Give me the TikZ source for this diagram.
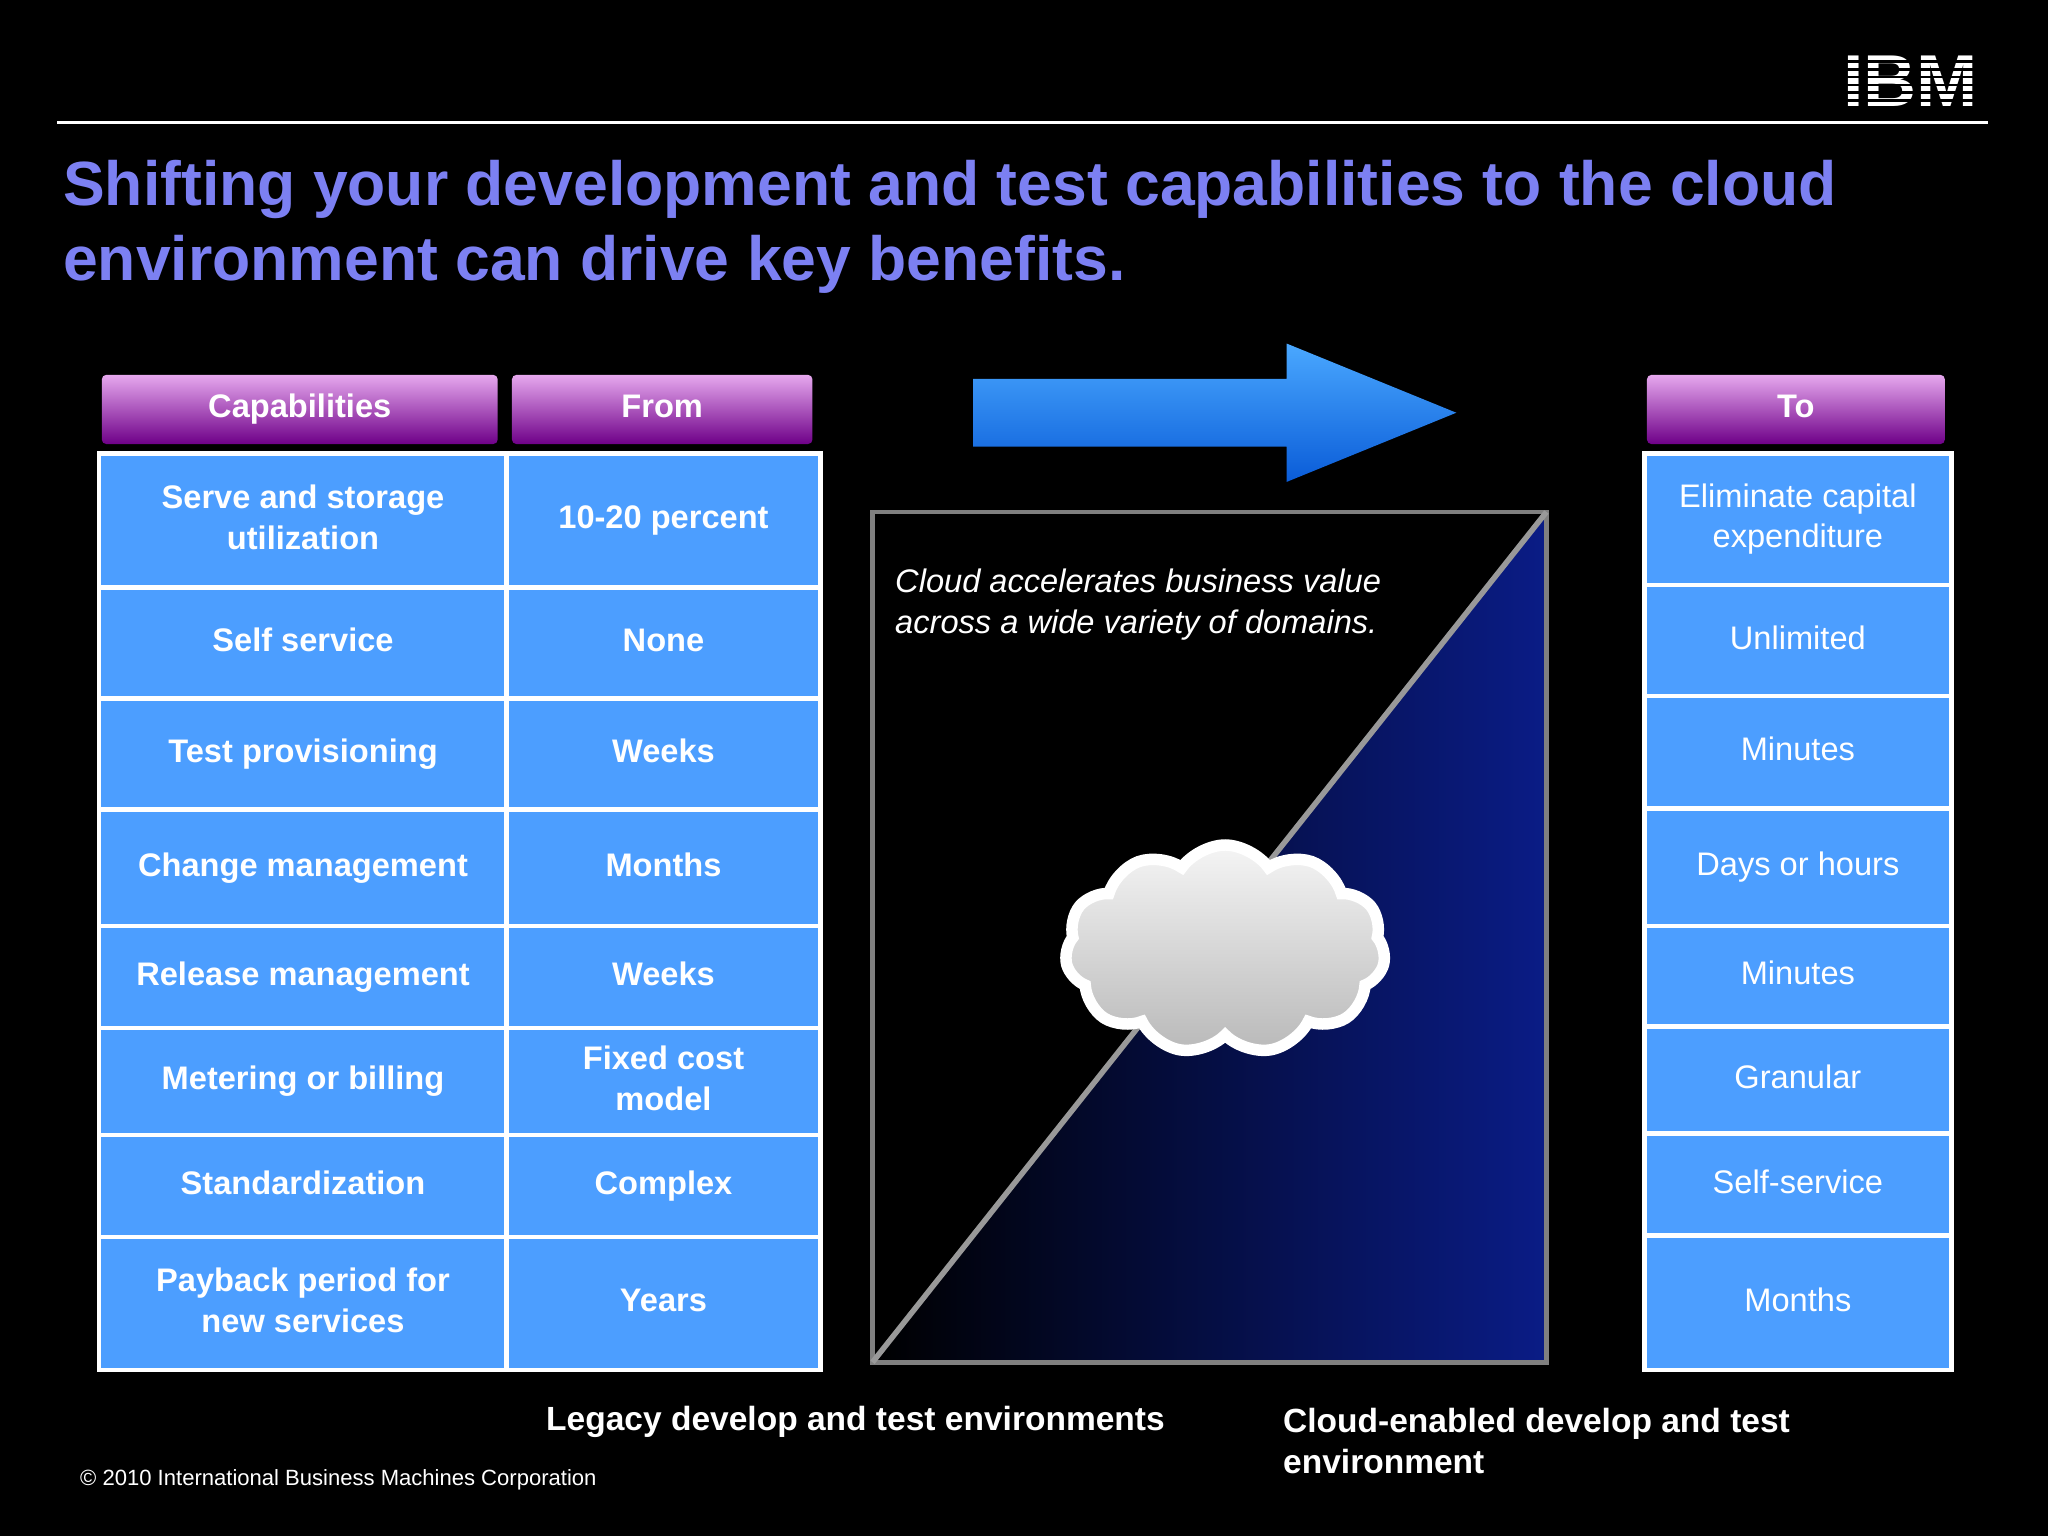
\documentclass[tikz,border=0pt]{standalone}
\usepackage{fontspec}
\setmainfont{Liberation Sans}
\usetikzlibrary{shapes.symbols,shapes.arrows}
\definecolor{titleblue}{HTML}{7C80F2}
\definecolor{cellblue}{HTML}{4C9EFF}
\definecolor{HTML2}{HTML}{E6A8EE}
\definecolor{HTML3}{HTML}{6E0088}
\definecolor{HTML4}{HTML}{4AA8FF}
\definecolor{HTML5}{HTML}{0A5CD8}
\definecolor{HTML6}{HTML}{0A1C86}
\newcommand{\cs}{\vphantom{Ag}}
\tikzset{
 cell/.style={draw=white,line width=1pt,fill=cellblue,text=white,align=center,font=\fontsize{7.1pt}{8.8pt}\selectfont},
 lcell/.style={cell,font=\fontsize{7.1pt}{8.8pt}\selectfont\bfseries},
 head/.style={top color=HTML2,bottom color=HTML3,text=white,font=\fontsize{7.1pt}{8.8pt}\selectfont\bfseries,rounded corners=1pt},
}
\begin{document}
\begin{tikzpicture}[x=0.01cm,y=-0.01cm]
\fill[black] (0,0) rectangle (1568,1176);
\useasboundingbox (0,0) rectangle (1568,1176);
\draw[white,line width=0.6pt] (44,94) -- (1522,94);
\node[text=white,font=\fontsize{16pt}{16pt}\selectfont\bfseries] (ibm) at (1463,62) {IBM};
\foreach \yy in {46,52,58,64,70,76} \fill[black] (1400,\yy) rectangle (1530,\yy+2);
\node[anchor=north west,text=titleblue,align=left,font=\fontsize{13.6pt}{16.4pt}\selectfont\bfseries] (title) at (36,110)
 {Shifting your development and test capabilities to the cloud\\environment can drive key benefits.};
\node[head,minimum width=3.03cm,minimum height=0.53cm] (h1) at (229.5,313.5) {\cs Capabilities};
\node[head,minimum width=2.30cm,minimum height=0.53cm] (h2) at (507,313.5) {\cs From};
\node[head,minimum width=2.28cm,minimum height=0.53cm] (h3) at (1375,313.5) {\cs To};
\def\lrows{347/450/{Serve and storage\\utilization}/{10-20 percent},450/535/{Self service}/{None},535/620/{Test provisioning}/{Weeks},620/709/{Change management}/{Months},709/787/{Release management}/{Weeks},787/869/{Metering or billing}/{Fixed cost\\model},869/947/{Standardization}/{Complex},947/1049/{Payback period for\\new services}/{Years}}
\foreach \a/\b/\c/\d [count=\i] in \lrows {
 \node[lcell,minimum width=3.12cm,minimum height={(\b-\a)*0.01cm}] (l\i) at (232,{(\a+\b)/2}) {\cs\c\cs};
 \node[lcell,minimum width=2.40cm,minimum height={(\b-\a)*0.01cm}] (m\i) at (508,{(\a+\b)/2}) {\cs\d\cs};
}
\def\rrows{347/448/{Eliminate capital\\expenditure},448/533/{Unlimited},533/619/{Minutes},619/709/{Days or hours},709/786/{Minutes},786/868/{Granular},868/946/{Self-service},946/1049/{Months}}
\foreach \a/\b/\c [count=\i] in \rrows {
 \node[cell,minimum width=2.35cm,minimum height={(\b-\a)*0.01cm}] (r\i) at (1376.5,{(\a+\b)/2}) {\cs\c\cs};
}
\shade[top color=HTML4,bottom color=HTML5,draw=none] (745,290) -- (985,290) -- (985,263) -- (1115,316) -- (985,369) -- (985,342) -- (745,342) -- cycle;
\shade[left color=black,right color=HTML6] (668,1043) -- (1184,392) -- (1184,1043) -- cycle;
\draw[gray,line width=1pt] (668,392) rectangle (1184,1043);
\draw[gray!80,line width=1.2pt] (668,1043) -- (1184,392);
\node[anchor=north west,text=white,align=left,font=\fontsize{7.1pt}{8.9pt}\selectfont\itshape] (cap) at (673,423)
 {Cloud accelerates business value\\across a wide variety of domains.};
\node[cloud,cloud puffs=11,cloud puff arc=110,aspect=1.6,minimum width=2.45cm,minimum height=1.6cm,draw=white,line width=2.5pt,top color=white!92!gray,bottom color=gray!55] (cloud) at (938,727) {};
\node[text=white,font=\fontsize{7.3pt}{8.9pt}\selectfont\bfseries] (leg) at (655,1089) {Legacy develop and test environments};
\node[anchor=north west,text=white,align=left,font=\fontsize{7.3pt}{8.9pt}\selectfont\bfseries] (cl) at (970,1066) {Cloud-enabled develop and test\\environment};
\node[anchor=west,text=white,font=\fontsize{4.8pt}{6pt}\selectfont] (foot) at (49,1133) {© 2010 International Business Machines Corporation};
\end{tikzpicture}
\end{document}
